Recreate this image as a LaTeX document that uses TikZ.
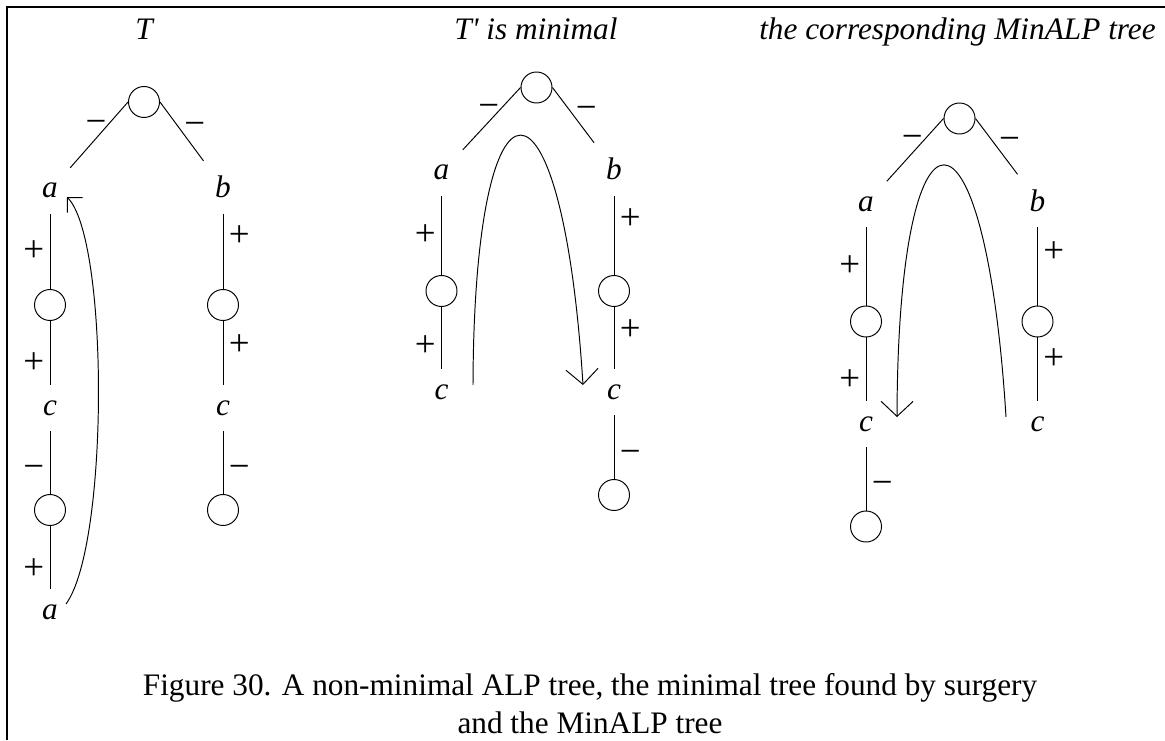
\documentclass[tikz,border=0pt]{standalone}
\usepackage{fontspec}
\setmainfont{Liberation Serif}
\usetikzlibrary{arrows.meta}

\begin{document}
\fontsize{17.8pt}{21.5pt}\selectfont
\begin{tikzpicture}[
    line width=0.55pt,
    % Styles for the ALP trees
    vertex/.style={circle, draw, minimum size=0.62cm, inner sep=0pt},
    letter/.style={font=\itshape, inner sep=0.3cm, anchor=base},
    treetitle/.style={font=\itshape, anchor=base},
    sign/.style={font=\fontsize{21pt}{24pt}\selectfont, inner sep=3pt},
    lsign/.style={sign, xshift=-0.06cm, yshift=0.16cm},
    rsign/.style={sign, xshift=0.26cm, yshift=0.04cm},
    surgery/.style={-{Straight Barb[length=0.3cm, width=0.64cm]}}
]
\useasboundingbox (0,0) rectangle (23.3,14.8);

% Frame (left and top rules only)
\draw[line width=1.2pt] (0.14,0) -- (0.14,14.66) -- (23.3,14.66);

% Titles
\node[treetitle] (tName) at (2.88,14.0) {T};
\node[treetitle] (mName) at (10.72,14.0) {T\textquotesingle\ is minimal};
\node[treetitle] (rName) at (19.15,14.0) {the corresponding MinALP tree};

% ----------------------------------------------------
% Tree T
% ----------------------------------------------------
\node[vertex] (tRoot) at (2.88,12.76) {};
\node[letter] (tA) at (1.0,10.84) {a};
\node[letter] (tB) at (4.46,10.84) {b};
\node[vertex] (tU) at (1.0,8.7) {};
\node[vertex] (tW) at (4.46,8.7) {};
\node[letter] (tC) at (1.0,6.5) {c};
\node[letter] (tD) at (4.46,6.5) {c};
\node[vertex] (tX) at (1.0,4.6) {};
\node[vertex] (tY) at (4.46,4.6) {};
\node[letter] (tA2) at (1.0,2.42) {a};

\draw (tRoot.west) -- (tA) node[midway, lsign] {−};
\draw (tRoot.east) -- (tB) node[midway, rsign] {−};
\draw (tA) -- (tU) node[midway, left, sign] {+};
\draw (tU) -- (tC) node[pos=0.66, left, sign] {+};
\draw (tC) -- (tX) node[pos=0.65, left, sign] {−};
\draw (tX) -- (tA2) node[pos=0.68, left, sign] {+};
\draw (tB) -- (tW) node[pos=0.3, right, sign] {+};
\draw (tW) -- (tD) node[pos=0.37, right, sign] {+};
\draw (tD) -- (tY) node[pos=0.65, right, sign] {−};

% back edge from the lower a up to the upper a
\coordinate (tFrom) at (1.32,2.72);
\coordinate (tTo) at (1.34,10.86);
\draw[-{Straight Barb[length=0.216cm, width=0.43cm]}] (tFrom) .. controls (2.18,3.9) and (2.18,10.0) .. (tTo);

% ----------------------------------------------------
% Tree T' (after surgery)
% ----------------------------------------------------
\node[vertex] (mRoot) at (10.73,13.05) {};
\node[letter] (mA) at (8.83,11.2) {a};
\node[letter] (mB) at (12.28,11.2) {b};
\node[vertex] (mU) at (8.83,8.98) {};
\node[vertex] (mW) at (12.28,8.98) {};
\node[letter] (mC) at (8.83,6.81) {c};
\node[letter] (mD) at (12.28,6.81) {c};
\node[vertex] (mY) at (12.28,4.9) {};

\draw (mRoot.west) -- (mA) node[midway, lsign] {−};
\draw (mRoot.east) -- (mB) node[midway, rsign] {−};
\draw (mA) -- (mU) node[midway, left, sign] {+};
\draw (mU) -- (mC) node[pos=0.62, left, sign] {+};
\draw (mB) -- (mW) node[pos=0.3, right, sign] {+};
\draw (mW) -- (mD) node[pos=0.37, right, sign] {+};
\draw (mD) -- (mY) node[pos=0.65, right, sign] {−};

\coordinate (mFrom) at (9.46,7.1);
\coordinate (mTo) at (11.66,7.1);
\draw[surgery] (mFrom) .. controls (9.48,13.76) and (11.24,13.76) .. (mTo);

% ----------------------------------------------------
% MinALP tree
% ----------------------------------------------------
\node[vertex] (rRoot) at (19.19,12.43) {};
\node[letter] (rA) at (17.32,10.57) {a};
\node[letter] (rB) at (20.75,10.57) {b};
\node[vertex] (rU) at (17.32,8.37) {};
\node[vertex] (rW) at (20.75,8.37) {};
\node[letter] (rC) at (17.32,6.17) {c};
\node[letter] (rD) at (20.75,6.17) {c};
\node[vertex] (rX) at (17.32,4.27) {};

\draw (rRoot.west) -- (rA) node[midway, lsign] {−};
\draw (rRoot.east) -- (rB) node[midway, rsign] {−};
\draw (rA) -- (rU) node[midway, left, sign] {+};
\draw (rU) -- (rC) node[pos=0.66, left, sign] {+};
\draw (rC) -- (rX) node[pos=0.65, right, sign] {−};
\draw (rB) -- (rW) node[pos=0.32, right, sign] {+};
\draw (rW) -- (rD) node[pos=0.34, right, sign] {+};

\coordinate (rFrom) at (20.12,6.46);
\coordinate (rTo) at (17.94,6.46);
\draw[surgery] (rFrom) .. controls (19.7,13.18) and (17.96,13.18) .. (rTo);

% Caption
\node[anchor=base, align=center] (caption) at (11.8,0.14)
    {Figure 30. A non-minimal ALP tree, the minimal tree found by surgery\\and the MinALP tree};

\end{tikzpicture}
\end{document}
